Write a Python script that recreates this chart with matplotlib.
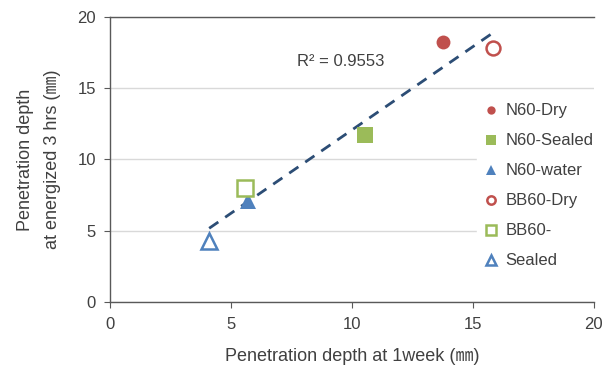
import numpy as np
import matplotlib
matplotlib.use("Agg")
import matplotlib.pyplot as plt

plt.rcParams['font.family'] = ['Liberation Sans', 'Noto Sans CJK JP']

# series: label, x (1 week), y (energized 3 hrs)
labels = ["N60-Dry", "N60-Sealed", "N60-water", "BB60-Dry", "BB60-", "Sealed"]
week_x = [13.76, 10.55, 5.72, 15.84, 5.59, 4.10]
hrs_y = [18.27, 11.72, 7.10, 17.80, 8.02, 4.30]
markers = ["o", "s", "^", "o", "s", "^"]
colors = ["#C0504D", "#9BBB59", "#4F81BD", "#C0504D", "#9BBB59", "#4F81BD"]
filled = [True, True, True, False, False, False]
r2_text = "R² = 0.9553"

fig = plt.figure(figsize=(6.09, 3.67), dpi=100)
ax = fig.add_axes([0.1806, 0.177, 0.7944, 0.777])

ax.set_xlim(0, 20)
ax.set_ylim(0, 20)
ax.set_xticks([0, 5, 10, 15, 20])
ax.set_yticks([0, 5, 10, 15, 20])
ax.yaxis.grid(True, color="#d9d9d9", linewidth=1)
ax.set_axisbelow(True)

ax.spines["right"].set_visible(False)
for side in ["left", "bottom", "top"]:
    ax.spines[side].set_color("#595959")
    ax.spines[side].set_linewidth(1)
ax.tick_params(axis="both", colors="#595959", labelcolor="#404040",
               labelsize=12, length=4, direction="out")
ax.tick_params(axis="x", pad=7)
ax.tick_params(axis="y", pad=6)

# linear trend through all points
xs = np.array(week_x)
ys = np.array(hrs_y)
k, b = np.polyfit(xs, ys, 1)
tx = np.array([xs.min(), xs.max()])
ax.plot(tx, k * tx + b, color="#2C4D75", linestyle=(0, (4, 3)), linewidth=2, zorder=2)

handles = []
for lab, x, y, m, c, f in zip(labels, week_x, hrs_y, markers, colors, filled):
    sz = 10 if m == "o" else 11
    h, = ax.plot([x], [y], linestyle="none", marker=m, markersize=sz,
                 markerfacecolor=c if f else "white", markeredgecolor=c,
                 markeredgewidth=0 if f else 1.8, label=lab, zorder=3)
    handles.append(h)

ax.text(7.75, 16.85, r2_text, fontsize=12, color="#404040", va="center", ha="left")

leg = fig.legend(handles=handles, loc="upper left", bbox_to_anchor=(0.77, 0.75),
                 frameon=True, fontsize=12, markerscale=0.6, labelspacing=0.9,
                 handletextpad=0.3, borderpad=0.2, handlelength=1.2)
leg.get_frame().set_edgecolor("white")
leg.get_frame().set_facecolor("white")
leg.get_frame().set_alpha(1)
for t in leg.get_texts():
    t.set_color("#404040")

ax.set_xlabel("Penetration depth at 1week (㎜)", fontsize=13, color="#404040", labelpad=11)
ax.set_ylabel("Penetration depth\nat energized 3 hrs (㎜)", fontsize=13, color="#404040",
              labelpad=12, linespacing=1.75)

fig.savefig("out.png", dpi=100)
